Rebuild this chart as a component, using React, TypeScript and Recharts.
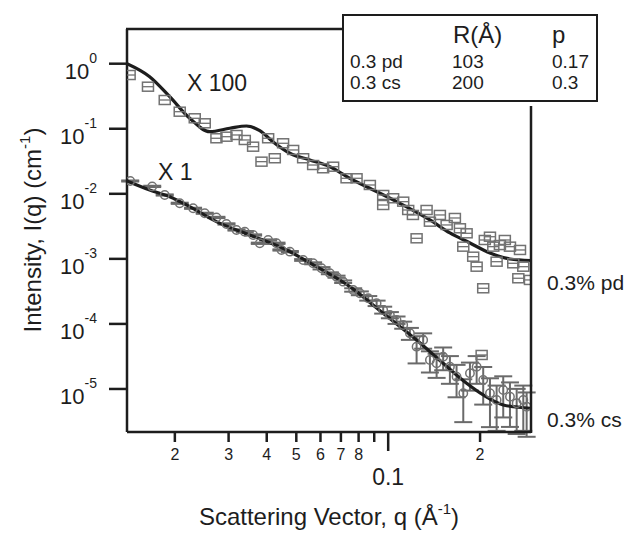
import React from "react";
import {
  ComposedChart,
  Line,
  Scatter,
  ErrorBar,
  XAxis,
  YAxis,
} from "recharts";

// 0.3% pd data (already multiplied by 100)
const pdQ = [
  0.01422, 0.01633, 0.01853, 0.02075, 0.02324, 0.02506, 0.02737, 0.02952, 0.03184, 0.0339,
  0.03609, 0.03845, 0.04251, 0.04043, 0.04525, 0.04882, 0.05264, 0.05677, 0.06121, 0.06601,
  0.07305, 0.07877, 0.08709, 0.0963, 0.1038, 0.0963, 0.112, 0.1163, 0.1239, 0.1336,
  0.1477, 0.1554, 0.137, 0.1718, 0.1807, 0.1762, 0.1899, 0.1949, 0.2048, 0.2155,
  0.221, 0.2323, 0.2506, 0.2266, 0.2569, 0.2703, 0.2771, 0.2669, 0.2914, 0.1205,
  0.1654, 0.2073, 0.2411, 0.2024,
];
const pdI = [
  0.67, 0.443, 0.2767, 0.1829, 0.1448, 0.1213, 0.0714, 0.0755, 0.0802, 0.0672,
  0.053, 0.0312, 0.0352, 0.0714, 0.0598, 0.0472, 0.0352, 0.0277, 0.0247, 0.0261,
  0.01732, 0.01732, 0.01366, 0.00959, 0.00854, 0.00673, 0.00757, 0.00564, 0.00207, 0.00564,
  0.00473, 0.00332, 0.00373, 0.00295, 0.00247, 0.00154, 0.00108, 0.000758, 0.000353, 0.00219,
  0.00154, 0.00163, 0.00154, 0.000905, 0.000855, 0.00137, 0.000758, 0.000503, 0.000474, 0.00473,
  0.00425, 0.00195, 0.00195, 3.33e-5,
];

// 0.3% cs data (x 1)
const csQ = [
  0.01428, 0.01686, 0.01853, 0.02075, 0.02295, 0.02506, 0.02737, 0.02952, 0.03184, 0.0339,
  0.03609, 0.03796, 0.04043, 0.04306, 0.0447, 0.04763, 0.05264, 0.05677, 0.06049, 0.0644,
  0.06773, 0.07119, 0.07679, 0.08075, 0.08604, 0.09163, 0.0963, 0.1013, 0.1065, 0.112,
  0.1178, 0.1239, 0.1302, 0.137, 0.1441, 0.1514, 0.1593, 0.1675, 0.1762, 0.1853,
  0.1949, 0.2048, 0.2155, 0.2266, 0.2382, 0.2506, 0.2636, 0.2771, 0.2842,
];
const csI = [
  0.01574, 0.013, 0.00959, 0.00715, 0.00599, 0.00502, 0.00433, 0.00344, 0.00278, 0.00262,
  0.00233, 0.001736, 0.00195, 0.001736, 0.00137, 0.00129, 0.000961, 0.000855, 0.000717, 0.0006,
  0.000532, 0.000446, 0.000333, 0.000296, 0.000248, 0.000208, 0.000164, 0.000137, 0.000115, 9.63e-5,
  7.18e-5, 4.47e-5, 5.66e-5, 2.79e-5, 2.48e-5, 3.14e-5, 2.2e-5, 1.545e-5, 8.59e-6, 1.743e-5,
  2.2e-5, 1.375e-5, 8.59e-6, 6.77e-6, 9.65e-6, 7.61e-6, 6.03e-6, 6.77e-6, 5.34e-6,
];
const csErr = [
  0.0003, 0.0003, 0.0002, 0.00015, 0.00012, 0.0001, 0.0001, 0.00008, 0.00006, 0.00006,
  0.00005, 0.00004, 0.00004, 0.00004, 0.00003, 0.00003, 0.00003, 0.00003, 0.00003, 0.00002,
  0.00002, 0.00002, 0.00002, 0.00002, 0.00002, 0.00002, 0.00002, 0.000015, 0.000015, 0.000012,
  0.000015, 0.00002, 0.000015, 0.00001, 0.00001, 0.000012, 0.00001, 0.000008, 0.0000055, 0.000008,
  0.00001, 0.000008, 0.000006, 0.0000045, 0.000006, 0.000005, 0.000004, 0.0000045, 0.0000035,
];

// fit curves
const pdFitQ = [
  0.01394, 0.01654, 0.01924, 0.02238, 0.02603, 0.03027, 0.03434, 0.03796, 0.04188, 0.04763,
  0.05537, 0.0644, 0.07487, 0.08709, 0.1092, 0.137, 0.1593, 0.1853, 0.2155, 0.2506, 0.293,
];
const pdFitI = [
  1.0, 0.631, 0.311, 0.1448, 0.0901, 0.1017, 0.1103, 0.0934, 0.0633, 0.042,
  0.0331, 0.0261, 0.01732, 0.01216, 0.00715, 0.00396, 0.0025, 0.001754, 0.001231, 0.000996, 0.000944,
];
const csFitQ = [
  0.01394, 0.01654, 0.01924, 0.02238, 0.02737, 0.03521, 0.04525, 0.05823, 0.07487, 0.0963,
  0.1239, 0.1514, 0.1807, 0.2048, 0.2382, 0.293,
];
const csFitI = [
  0.01574, 0.01145, 0.00903, 0.00634, 0.00373, 0.002328, 0.001454, 0.000758, 0.000374, 0.0001457,
  5.66e-5, 2.48e-5, 1.224e-5, 8.09e-6, 5.68e-6, 5.05e-6,
];

const xTicks = [0.02, 0.03, 0.04, 0.05, 0.06, 0.07, 0.08, 0.09, 0.1, 0.2];
const xTickLabels = ["2", "3", "4", "5", "6", "7", "8", "", "0.1", "2"];
const yTicks = [1, 0.1, 0.01, 0.001, 0.0001, 0.00001];
const yTickExps = ["0", "-1", "-2", "-3", "-4", "-5"];

const tableHead = ["", "R(Å)", "p"];
const tableRows = [
  ["0.3 pd", "103", "0.17"],
  ["0.3 cs", "200", "0.3"],
];

const pdPoints = pdQ.map((q, i) => ({ q, I: pdI[i] }));
const csPoints = csQ.map((q, i) => ({ q, I: csI[i], err: csErr[i] }));
const pdFit = pdFitQ.map((q, i) => ({ q, I: pdFitI[i] }));
const csFit = csFitQ.map((q, i) => ({ q, I: csFitI[i] }));

const FONT = "'Liberation Sans', Arial, Helvetica, sans-serif";
const INK = "#1d1d1d";
const MARK = "#727272";

const SquareMark = (props: any) => {
  const { cx, cy } = props;
  if (cx == null || cy == null) return null;
  return (
    <g>
      <rect x={cx - 5.5} y={cy - 4.5} width={11} height={9} fill="none" stroke={MARK} strokeWidth={1.5} />
      <line x1={cx - 5.5} x2={cx + 5.5} y1={cy} y2={cy} stroke={MARK} strokeWidth={1.3} />
    </g>
  );
};

const CircleMark = (props: any) => {
  const { cx, cy } = props;
  if (cx == null || cy == null) return null;
  return <circle cx={cx} cy={cy} r={4.2} fill="none" stroke={MARK} strokeWidth={1.5} />;
};

const XTick = ({ x, y, payload }: any) => {
  const idx = xTicks.indexOf(payload.value);
  const label = idx >= 0 ? xTickLabels[idx] : "";
  const major = payload.value === 0.1;
  return (
    <g>
      <line x1={x} x2={x} y1={y} y2={y + (major ? 19 : 10)} stroke={INK} strokeWidth={2.5} />
      {label && (
        <text
          x={x}
          y={major ? y + 53 : y + 28}
          textAnchor="middle"
          fontSize={major ? 23 : 16}
          fill={INK}
          fontFamily={FONT}
        >
          {label}
        </text>
      )}
    </g>
  );
};

const YTick = ({ x, y, payload }: any) => {
  const idx = yTicks.indexOf(payload.value);
  return (
    <g>
      <line x1={x - 18} x2={x} y1={y} y2={y} stroke={INK} strokeWidth={2.5} />
      <text x={x - 30} y={y + 15} textAnchor="end" fontSize={22} fill={INK} fontFamily={FONT}>
        10
        <tspan dy={-16} fontSize={14}>
          {yTickExps[idx]}
        </tspan>
      </text>
    </g>
  );
};

export default function App() {
  return (
    <div style={{ position: "absolute", left: 0, top: 0, width: 631, height: 533, background: "#fff", fontFamily: FONT }}>
      <ComposedChart
        width={631}
        height={533}
        margin={{ top: 29, right: 100, bottom: 0, left: 0 }}
      >
        <XAxis
          dataKey="q"
          type="number"
          scale="log"
          domain={[0.01394, 0.2937]}
          allowDataOverflow
          ticks={xTicks}
          interval={0}
          tick={<XTick />}
          tickSize={0}
          tickMargin={0}
          tickLine={false}
          axisLine={{ stroke: INK, strokeWidth: 2.5 }}
          height={101}
        />
        <YAxis
          dataKey="I"
          type="number"
          scale="log"
          domain={[2.18e-6, 3.415]}
          allowDataOverflow
          ticks={yTicks}
          interval={0}
          tick={<YTick />}
          tickSize={0}
          tickMargin={0}
          tickLine={false}
          axisLine={{ stroke: INK, strokeWidth: 2.5 }}
          width={127}
        />
        <Scatter data={pdPoints} dataKey="I" shape={SquareMark} isAnimationActive={false} />
        <Scatter data={csPoints} dataKey="I" shape={CircleMark} isAnimationActive={false}>
          <ErrorBar dataKey="err" direction="y" width={9} stroke="#6a6a6a" strokeWidth={2} />
        </Scatter>
        <Line data={pdFit} dataKey="I" type="monotone" stroke={INK} strokeWidth={3.2} dot={false} isAnimationActive={false} />
        <Line data={csFit} dataKey="I" type="monotone" stroke={INK} strokeWidth={3.2} dot={false} isAnimationActive={false} />
      </ComposedChart>

      <svg
        width={631}
        height={533}
        style={{ position: "absolute", left: 0, top: 0, pointerEvents: "none" }}
        fontFamily={FONT}
        fill={INK}
      >
        {/* partial frame */}
        <line x1={126} x2={343} y1={29} y2={29} stroke={INK} strokeWidth={2.5} />
        <line x1={531} x2={531} y1={106} y2={433} stroke={INK} strokeWidth={2.5} />

        {/* parameter table */}
        <rect x={343} y={15} width={254} height={86} fill="#fff" stroke={INK} strokeWidth={2} />
        <text x={453} y={43} fontSize={24}>{tableHead[1]}</text>
        <text x={552} y={43} fontSize={24}>{tableHead[2]}</text>
        {tableRows.map((r, i) => (
          <g key={r[0]} fontSize={19}>
            <text x={350} y={68 + i * 21}>{r[0]}</text>
            <text x={452} y={68 + i * 21}>{r[1]}</text>
            <text x={552} y={68 + i * 21}>{r[2]}</text>
          </g>
        ))}

        <text x={187} y={91} fontSize={23}>X 100</text>
        <text x={158} y={180} fontSize={23}>X 1</text>
        <text x={547} y={290} fontSize={21}>0.3% pd</text>
        <text x={547} y={427} fontSize={21}>0.3% cs</text>

        <text x={329} y={525} textAnchor="middle" fontSize={24}>
          Scattering Vector, q (Å
          <tspan dy={-11} fontSize={15}>-1</tspan>
          <tspan dy={11}>)</tspan>
        </text>
        <text transform="translate(41,230) rotate(-90)" textAnchor="middle" fontSize={24}>
          Intensity, I(q) (cm
          <tspan dy={-11} fontSize={15}>-1</tspan>
          <tspan dy={11}>)</tspan>
        </text>
      </svg>
    </div>
  );
}
